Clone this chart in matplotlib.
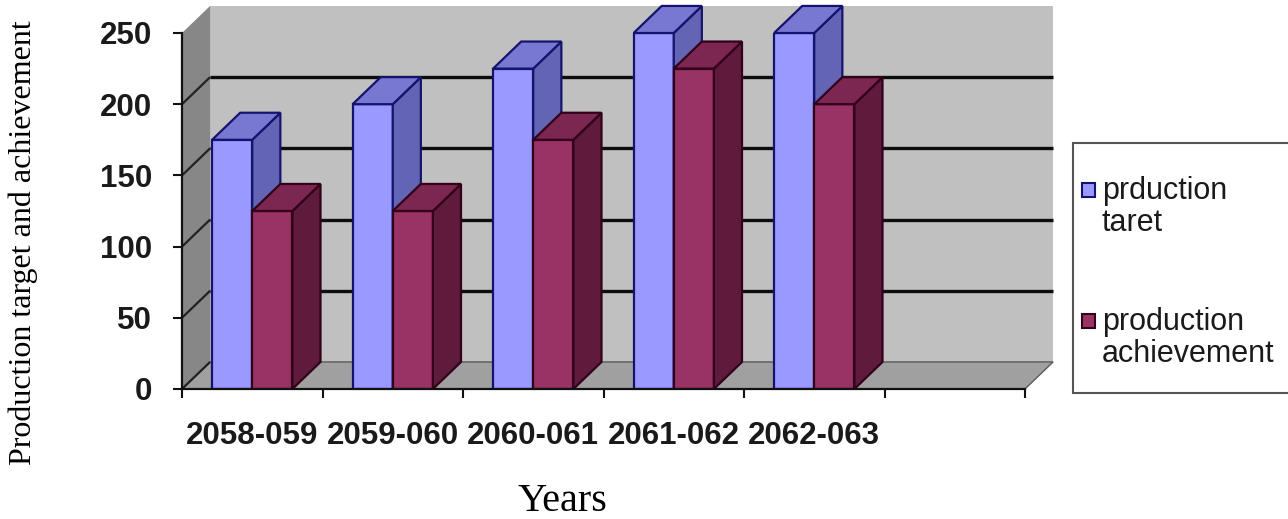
import matplotlib
matplotlib.use('Agg')
import matplotlib.pyplot as plt
from matplotlib.patches import Polygon, Rectangle

years = ['2058-059', '2059-060', '2060-061', '2061-062', '2062-063']
target = [175, 200, 225, 250, 250]
achievement = [125, 125, 175, 225, 200]
series_names = ['prduction\ntaret', 'production\nachievement']
y_ticks = [0, 50, 100, 150, 200, 250]
n_slots = 6  # category axis keeps one empty slot at the end

# face colours: front, top, side, edge
blue = ('#9999ff', '#7878d2', '#6464b4', '#14146e')
red = ('#993366', '#7c2652', '#5f1b3c', '#33001a')

W, H = 1288, 519
SANS = 'Liberation Sans'
SERIF = 'Liberation Serif'

fig = plt.figure(figsize=(W / 100, H / 100), dpi=100)
ax = fig.add_axes([182 / W, (H - 389) / H, (1025 - 182) / W, (389 - 33) / H])
ax.set_xlim(0, n_slots)
ax.set_ylim(y_ticks[0], y_ticks[-1])
ax.set_facecolor('none')

# depth of the 3D box, in data units
dx, dy = 0.2, 19.0
ymax = y_ticks[-1]


def poly(pts, fc, ec='none', lw=0.0, z=1.0):
    p = Polygon(pts, closed=True, facecolor=fc, edgecolor=ec, linewidth=lw,
                zorder=z, clip_on=False, joinstyle='miter')
    ax.add_patch(p)
    return p


# back wall, side wall and floor
poly([(dx, dy), (n_slots + dx, dy), (n_slots + dx, ymax + dy), (dx, ymax + dy)],
     '#c0c0c0', z=0.1)
poly([(0, 0), (dx, dy), (dx, ymax + dy), (0, ymax)], '#878787', z=0.2)
poly([(0, 0), (n_slots, 0), (n_slots + dx, dy), (dx, dy)], '#a0a0a0',
     ec='#5a5a5a', lw=1.0, z=0.2)

for v in y_ticks[1:-1]:
    ax.plot([dx, n_slots + dx], [v + dy, v + dy], color='#0d0d0d', lw=2.4,
            zorder=0.5, clip_on=False, solid_capstyle='butt')
for v in y_ticks[:-1]:
    ax.plot([0, dx], [v, v + dy], color='#222222', lw=1.6, zorder=0.5,
            clip_on=False, solid_capstyle='butt')

# clustered 3D columns
bw = 40 / 140
off = 30 / 140
xs = list(range(len(years)))
bars_t = ax.bar([i + off for i in xs], target, width=bw, align='edge',
                color=blue[0], edgecolor=blue[3], linewidth=1.6)
bars_a = ax.bar([i + off + bw for i in xs], achievement, width=bw, align='edge',
                color=red[0], edgecolor=red[3], linewidth=1.6)

z = 2.0
for i in xs:
    for rect, cols in ((bars_t[i], blue), (bars_a[i], red)):
        x0 = rect.get_x()
        x1 = x0 + rect.get_width()
        v = rect.get_height()
        rect.set_zorder(z)
        rect.set_joinstyle('miter')
        poly([(x1, 0), (x1 + dx, dy), (x1 + dx, v + dy), (x1, v)],
             cols[2], ec=cols[3], lw=1.6, z=z + 0.1)
        poly([(x0, v), (x1, v), (x1 + dx, v + dy), (x0 + dx, v + dy)],
             cols[1], ec=cols[3], lw=1.6, z=z + 0.2)
        z += 1.0

# axes lines and ticks
for s in ('top', 'right'):
    ax.spines[s].set_visible(False)
for s in ('left', 'bottom'):
    ax.spines[s].set_linewidth(1.6)
    ax.spines[s].set_color('#111111')
    ax.spines[s].set_zorder(50)

ax.set_yticks(y_ticks)
ax.set_yticklabels([str(t) for t in y_ticks], fontsize=22.5, family=SANS,
                   fontweight='bold', color='#1a1a1a')
ax.tick_params(axis='y', direction='out', length=6.5, width=1.5,
               pad=15, color='#111111')

ax.set_xticks([i + 0.5 for i in xs])
ax.set_xticklabels(years, fontsize=22.5, family=SANS, fontweight='bold',
                   color='#1a1a1a')
ax.set_xticks(list(range(n_slots + 1)), minor=True)
ax.tick_params(axis='x', which='major', length=0, pad=23)
ax.tick_params(axis='x', which='minor', direction='out', length=6.5,
               width=1.5, color='#111111')

# legend box
fig.patches.append(Rectangle((1073 / W, (H - 393) / H), (W - 1073 + 10) / W,
                             (393 - 143) / H, transform=fig.transFigure,
                             facecolor='white', edgecolor='#555555',
                             linewidth=1.5, zorder=1))
for name, cols, yc in ((series_names[0], blue, 207), (series_names[1], red, 338)):
    top = yc - 24
    fig.patches.append(Rectangle((1082 / W, (H - top - 14) / H), 13 / W, 14 / H,
                                 transform=fig.transFigure, facecolor=cols[0],
                                 edgecolor=cols[3], linewidth=1.5, zorder=2))
    fig.text(1102 / W, 1 - yc / H, name, fontsize=22, family=SANS,
             color='#1a1a1a', ha='left', va='center', linespacing=1.05)

fig.text(23 / W, 1 - 243 / H, 'Production target and achievement',
         rotation=90, fontsize=23, family=SERIF, ha='center', va='center')
fig.text(562 / W, 1 - 511 / H, 'Years', fontsize=29, family=SERIF,
         ha='center', va='baseline')

fig.savefig('out.png', dpi=100, facecolor='white')
